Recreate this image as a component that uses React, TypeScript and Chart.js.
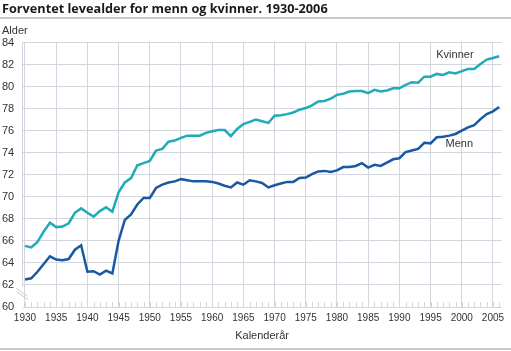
import React, { useEffect, useRef } from "react";
import { Chart, registerables } from "chart.js";

Chart.register(...registerables);

const chartTitle = "Forventet levealder for menn og kvinner. 1930-2006";
const yAxisTitle = "Alder";
const xAxisTitle = "Kalenderår";
const seriesNames = ["Kvinner", "Menn"];

const years = [
  1930, 1931, 1932, 1933, 1934, 1935, 1936, 1937, 1938, 1939,
  1940, 1941, 1942, 1943, 1944, 1945, 1946, 1947, 1948, 1949,
  1950, 1951, 1952, 1953, 1954, 1955, 1956, 1957, 1958, 1959,
  1960, 1961, 1962, 1963, 1964, 1965, 1966, 1967, 1968, 1969,
  1970, 1971, 1972, 1973, 1974, 1975, 1976, 1977, 1978, 1979,
  1980, 1981, 1982, 1983, 1984, 1985, 1986, 1987, 1988, 1989,
  1990, 1991, 1992, 1993, 1994, 1995, 1996, 1997, 1998, 1999,
  2000, 2001, 2002, 2003, 2004, 2005, 2006,
];

const kvinner = [
  65.55, 65.4, 65.9, 66.85, 67.65, 67.25, 67.3, 67.6, 68.55, 68.95,
  68.55, 68.2, 68.7, 69.05, 68.65, 70.4, 71.3, 71.7, 72.85, 73.05,
  73.25, 74.2, 74.35, 75.0, 75.1, 75.35, 75.55, 75.55, 75.55, 75.8,
  75.95, 76.05, 76.05, 75.5, 76.15, 76.6, 76.8, 77.0, 76.85, 76.7,
  77.35, 77.4, 77.5, 77.65, 77.9, 78.05, 78.3, 78.65, 78.7, 78.9,
  79.25, 79.35, 79.55, 79.6, 79.6, 79.4, 79.7, 79.55, 79.65, 79.85,
  79.85, 80.15, 80.4, 80.35, 80.9, 80.9, 81.15, 81.05, 81.3, 81.2,
  81.4, 81.6, 81.6, 82.05, 82.45, 82.6, 82.75,
];

const menn = [
  62.5, 62.6, 63.2, 63.9, 64.6, 64.3, 64.25, 64.35, 65.2, 65.6,
  63.2, 63.25, 62.95, 63.3, 63.05, 66.0, 67.9, 68.4, 69.3, 69.9,
  69.9, 70.8, 71.1, 71.3, 71.4, 71.6, 71.5, 71.4, 71.4, 71.4,
  71.35, 71.2, 71.0, 70.85, 71.3, 71.1, 71.5, 71.4, 71.25, 70.85,
  71.05, 71.2, 71.35, 71.35, 71.7, 71.75, 72.05, 72.3, 72.35, 72.25,
  72.4, 72.7, 72.7, 72.8, 73.05, 72.65, 72.9, 72.8, 73.1, 73.4,
  73.5, 74.05, 74.2, 74.35, 74.9, 74.85, 75.4, 75.45, 75.55, 75.7,
  76.0, 76.3, 76.5, 77.05, 77.5, 77.75, 78.15,
];

const xTickValues = [
  1930, 1935, 1940, 1945, 1950, 1955, 1960, 1965,
  1970, 1975, 1980, 1985, 1990, 1995, 2000, 2005,
];
const yTickValues = [60, 62, 64, 66, 68, 70, 72, 74, 76, 78, 80, 82, 84];

const GRID = "#d3d6dc";
const TEXT = "#333333";
const FONT = "'Liberation Sans', Arial, sans-serif";
const COLOR_KVINNER = "#1fabb8";
const COLOR_MENN = "#1a58a3";

export default function App() {
  const ref = useRef<HTMLCanvasElement>(null);

  useEffect(() => {
    const canvas = ref.current;
    if (!canvas) return;

    const overlay = {
      id: "overlay",
      beforeDatasetsDraw(chart: any) {
        const { ctx, chartArea, scales } = chart;
        const x = scales.x;
        const y = scales.y;
        const y62 = y.getPixelForValue(62);
        const y60 = y.getPixelForValue(60);
        const lx = Math.floor(chartArea.left) + 0.5;
        ctx.save();
        ctx.strokeStyle = GRID;
        ctx.lineWidth = 1;
        // left axis line, stopping at the break
        ctx.beginPath();
        ctx.moveTo(lx, chartArea.top);
        ctx.lineTo(lx, y62 + 2);
        ctx.stroke();
        // break marks
        ctx.strokeStyle = "#c4c7cd";
        ctx.beginPath();
        ctx.moveTo(lx - 6, y62 + 3.5);
        ctx.lineTo(lx + 5, y62 + 11.5);
        ctx.moveTo(lx - 6, y62 + 6.5);
        ctx.lineTo(lx + 5, y62 + 14.5);
        ctx.stroke();
        // minor year ticks at the bottom
        ctx.strokeStyle = GRID;
        ctx.beginPath();
        for (const yr of years) {
          const px = Math.round(x.getPixelForValue(yr)) + 0.5;
          ctx.moveTo(px, y60);
          ctx.lineTo(px, y60 - 5);
        }
        ctx.stroke();
        ctx.restore();
      },
      afterDatasetsDraw(chart: any) {
        const { ctx, scales } = chart;
        const x = scales.x;
        const y = scales.y;
        ctx.save();
        ctx.font = `11px ${FONT}`;
        ctx.fillStyle = TEXT;
        ctx.textAlign = "center";
        ctx.textBaseline = "middle";
        ctx.fillText(seriesNames[0], x.getPixelForValue(1998.9), y.getPixelForValue(82.85));
        ctx.fillText(seriesNames[1], x.getPixelForValue(1999.6), y.getPixelForValue(74.8));
        ctx.restore();
      },
    };

    const chart = new Chart(canvas, {
      type: "line",
      data: {
        datasets: [
          {
            label: seriesNames[0],
            data: years.map((yr, i) => ({ x: yr, y: kvinner[i] })),
            borderColor: COLOR_KVINNER,
            borderWidth: 2.5,
            pointRadius: 0,
            tension: 0,
            fill: false,
          },
          {
            label: seriesNames[1],
            data: years.map((yr, i) => ({ x: yr, y: menn[i] })),
            borderColor: COLOR_MENN,
            borderWidth: 2.5,
            pointRadius: 0,
            tension: 0,
            fill: false,
          },
        ],
      },
      options: {
        responsive: false,
        animation: false,
        devicePixelRatio: 1,
        layout: { padding: { left: 2, right: 9.3, top: 42.5, bottom: 0 } },
        plugins: {
          legend: { display: false },
          tooltip: { enabled: false },
          title: { display: false },
        },
        scales: {
          x: {
            type: "linear",
            min: 1929.6,
            max: 2006.4,
            afterBuildTicks: (s: any) => {
              s.ticks = xTickValues.map((v) => ({ value: v }));
            },
            afterFit: (s: any) => {
              s.paddingLeft = 0;
              s.paddingRight = 0;
              s.height = 44;
            },
            grid: { color: GRID, lineWidth: 1, drawTicks: false },
            border: { display: false },
            ticks: {
              autoSkip: false,
              maxRotation: 0,
              padding: 5,
              color: TEXT,
              font: { family: FONT, size: 10 },
              callback: (v: any) => String(v),
            },
            title: {
              display: true,
              text: xAxisTitle,
              color: TEXT,
              font: { family: FONT, size: 11 },
              padding: { top: 4, bottom: 8.4 },
            },
          },
          y: {
            type: "linear",
            min: 60,
            max: 84,
            afterBuildTicks: (s: any) => {
              s.ticks = yTickValues.map((v) => ({ value: v }));
            },
            afterFit: (s: any) => {
              s.width = 20.5;
              s.paddingTop = 0;
              s.paddingBottom = 0;
            },
            grid: { color: GRID, lineWidth: 1, drawTicks: false },
            border: { display: false },
            ticks: {
              crossAlign: "far",
              padding: 8,
              color: TEXT,
              font: { family: FONT, size: 11 },
              callback: (v: any) => String(v),
            },
          },
        },
      },
      plugins: [overlay],
    });

    return () => chart.destroy();
  }, []);

  return (
    <div
      style={{
        position: "absolute",
        left: 0,
        top: 0,
        width: 511,
        height: 351,
        background: "#ffffff",
        overflow: "hidden",
      }}
    >
      <canvas
        ref={ref}
        width={511}
        height={351}
        style={{ position: "absolute", left: 0, top: 0, width: 511, height: 351 }}
      />
      <div
        style={{
          position: "absolute",
          left: 2,
          top: 0,
          fontFamily: "'Open Sans', sans-serif",
          fontWeight: 700,
          fontSize: 12.7,
          lineHeight: "16px",
          color: "#1a1a1a",
          whiteSpace: "nowrap",
        }}
      >
        {chartTitle}
      </div>
      <div
        style={{
          position: "absolute",
          left: 0,
          top: 16.7,
          width: 511,
          height: 2,
          background: "#c9c9c9",
        }}
      />
      <div
        style={{
          position: "absolute",
          left: 2,
          top: 23.8,
          fontFamily: FONT,
          fontSize: 11,
          lineHeight: "13px",
          color: TEXT,
          whiteSpace: "nowrap",
        }}
      >
        {yAxisTitle}
      </div>
      <div
        style={{
          position: "absolute",
          left: 0,
          top: 348.3,
          width: 511,
          height: 2,
          background: "#c9c9c9",
        }}
      />
    </div>
  );
}
